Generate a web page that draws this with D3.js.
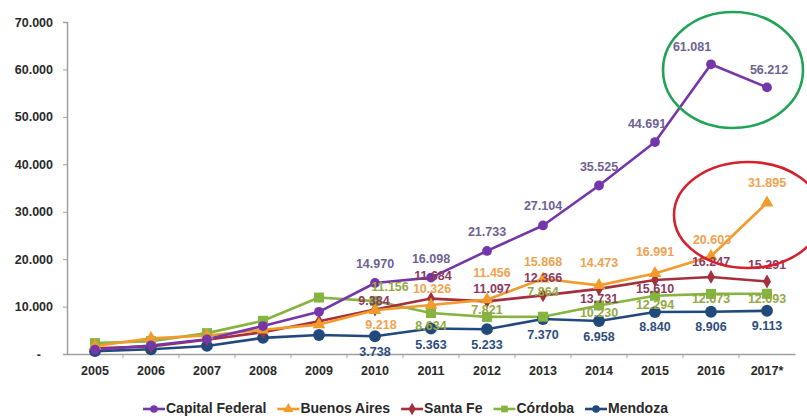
<!DOCTYPE html>
<html>
<head>
<meta charset="utf-8">
<script src="https://cdn.jsdelivr.net/npm/d3@7"></script>
<style>
  html, body { margin: 0; padding: 0; background: #fff; }
  svg { display: block; font-family: "Liberation Sans", Arial, sans-serif; }
</style>
</head>
<body>
<svg id="chart" width="807" height="419"></svg>
<script>
// Years on the horizontal axis
const years = ["2005", "2006", "2007", "2008", "2009", "2010", "2011", "2012", "2013", "2014", "2015", "2016", "2017*"];

// Series names
const seriesNames = ["Capital Federal", "Buenos Aires", "Santa Fe", "Córdoba", "Mendoza"];

// Values per province
const capitalFederal = [900, 1800, 3100, 5900, 8900, 14970, 16098, 21733, 27104, 35525, 44691, 61081, 56212];
const buenosAires    = [1700, 3300, 3900, 5100, 6200, 9218, 10326, 11456, 15868, 14473, 16991, 20603, 31895];
const santaFe        = [1200, 1600, 3000, 4600, 6900, 9384, 11684, 11097, 12366, 13731, 15610, 16247, 15291];
const cordoba        = [2300, 2700, 4400, 7000, 11900, 11156, 8634, 7821, 7864, 10230, 12294, 12673, 12693];
const mendoza        = [600, 1000, 1700, 3400, 4000, 3738, 5363, 5233, 7370, 6958, 8840, 8906, 9113];

// Y axis tick values
const yTicks = [0, 10000, 20000, 30000, 40000, 50000, 60000, 70000];

// First year that carries value labels
const firstLabelledYear = "2010";

const values = [capitalFederal, buenosAires, santaFe, cordoba, mendoza];
const lineColors  = ["#7436a8", "#f39a2c", "#a3303c", "#86b441", "#22497c"];
const labelColors = ["#6e6294", "#f0a24e", "#8d3a62", "#93a844", "#2e4d80"];
const markerTypes = [d3.symbolCircle, d3.symbolTriangle, d3.symbolDiamond, d3.symbolSquare, d3.symbolCircle];
const markerSizes = [75, 70, 55, 100, 110];

// Label placement relative to each point (only 2010 onward is labelled)
const labelDy = [
  [0, 0, 0, 0, 0, -18, -18, -18, -19, -18, -17, -17, -17],
  [0, 0, 0, 0, 0, 15, -15, -26, -16, -22, -21, -16, -19],
  [0, 0, 0, 0, 0, -8, -22, -12, -17, 11, 10, -14, -16],
  [0, 0, 0, 0, 0, -13, 14, -6, -24, 8, 10, 6, 6],
  [0, 0, 0, 0, 0, 16, 17, 17, 17, 17, 16, 16, 16]
];
const labelDx = [
  [0, 0, 0, 0, 0, 0, 0, 0, 0, 0, -8, -19, 2],
  [0, 0, 0, 0, 0, 6, 1, 5, 0, 0, 0, 1, 0],
  [0, 0, 0, 0, 0, -1, 2, 5, 0, 0, 0, 0, 0],
  [0, 0, 0, 0, 0, 15, 0, 0, 0, 0, 0, 0, 0],
  [0, 0, 0, 0, 0, 0, 0, 0, 0, 0, 0, 0, 0]
];

const svg = d3.select("#chart");
const margin = { left: 67, right: 12, top: 22, bottom: 65 };
const W = 807, H = 419;

const x = d3.scaleBand().domain(years).range([margin.left, W - margin.right]);
const y = d3.scaleLinear().domain([0, 70000]).range([H - margin.bottom, margin.top]);
const cx = d => x(d) + x.bandwidth() / 2;

const fmt = v => v === 0 ? "-" : d3.format(",")(v).replace(/,/g, ".");

// Y axis
const yAxis = svg.append("g")
  .attr("transform", `translate(${margin.left},0)`)
  .call(d3.axisLeft(y).tickValues(yTicks).tickSize(4).tickPadding(10).tickFormat(fmt));
yAxis.select(".domain").attr("stroke", "#a0a0a0").attr("stroke-width", 1.5);
yAxis.selectAll(".tick line").attr("stroke", "#a0a0a0");
yAxis.selectAll(".tick text")
  .attr("font-size", 12.5).attr("font-weight", "bold").attr("fill", "#2a2a2a");
yAxis.selectAll(".tick").filter(d => d === 0).select("text").attr("dx", -12);

// X axis with ticks between categories
const xAxis = svg.append("g")
  .attr("transform", `translate(0,${y(0)})`)
  .call(d3.axisBottom(x).tickSize(0).tickPadding(12));
xAxis.select(".domain").attr("stroke", "#a0a0a0").attr("stroke-width", 1.5);
xAxis.selectAll(".tick text")
  .attr("font-size", 12.5).attr("font-weight", "bold").attr("fill", "#2a2a2a");
xAxis.selectAll(".sep")
  .data(years.slice(1))
  .join("line")
  .attr("x1", d => x(d)).attr("x2", d => x(d))
  .attr("y1", 0).attr("y2", 4)
  .attr("stroke", "#a0a0a0");

// Lines and markers, drawn from the bottom series up
const line = d3.line().x((d, i) => cx(years[i])).y(d => y(d));
const order = [4, 3, 2, 1, 0];
order.forEach(s => {
  svg.append("path")
    .datum(values[s])
    .attr("fill", "none")
    .attr("stroke", lineColors[s])
    .attr("stroke-width", 2.6)
    .attr("stroke-linejoin", "round")
    .attr("d", line);
});
order.forEach(s => {
  svg.append("g").selectAll("path")
    .data(values[s])
    .join("path")
    .attr("transform", (d, i) => `translate(${cx(years[i])},${y(d)})`)
    .attr("d", d3.symbol().type(markerTypes[s]).size(markerSizes[s]))
    .attr("fill", lineColors[s]);
});

// Value labels from 2010 onward
const startIdx = years.indexOf(firstLabelledYear);
order.forEach(s => {
  svg.append("g").selectAll("text")
    .data(values[s].map((v, i) => ({ v, i })).filter(d => d.i >= startIdx))
    .join("text")
    .attr("x", d => cx(years[d.i]) + labelDx[s][d.i])
    .attr("y", d => y(d.v) + labelDy[s][d.i])
    .attr("text-anchor", "middle")
    .attr("dominant-baseline", "middle")
    .attr("font-size", 12.5)
    .attr("font-weight", "bold")
    .attr("fill", labelColors[s])
    .text(d => fmt(d.v));
});

// Highlight ellipses
svg.append("ellipse")
  .attr("cx", 733).attr("cy", 70).attr("rx", 70).attr("ry", 58)
  .attr("fill", "none").attr("stroke", "#22a356").attr("stroke-width", 2.6);
svg.append("ellipse")
  .attr("cx", 748).attr("cy", 215).attr("rx", 74).attr("ry", 53)
  .attr("fill", "none").attr("stroke", "#d5202e").attr("stroke-width", 2.6);

// Legend, laid out left to right from the measured text widths
const legend = svg.append("g").attr("transform", "translate(0,409)");
let lx = 143;
seriesNames.forEach((name, s) => {
  const g = legend.append("g").attr("transform", `translate(${lx},0)`);
  g.append("line").attr("x1", 0).attr("x2", 22).attr("y1", 0).attr("y2", 0)
    .attr("stroke", lineColors[s]).attr("stroke-width", 2.6);
  g.append("path").attr("transform", "translate(11,0)")
    .attr("d", d3.symbol().type(markerTypes[s]).size(45))
    .attr("fill", lineColors[s]);
  const t = g.append("text").attr("x", 23).attr("y", 0)
    .attr("dominant-baseline", "middle")
    .attr("font-size", 14).attr("font-weight", "bold").attr("fill", "#2a2a2a")
    .text(name);
  lx += 23 + t.node().getComputedTextLength() + 11;
});
</script>
</body>
</html>
